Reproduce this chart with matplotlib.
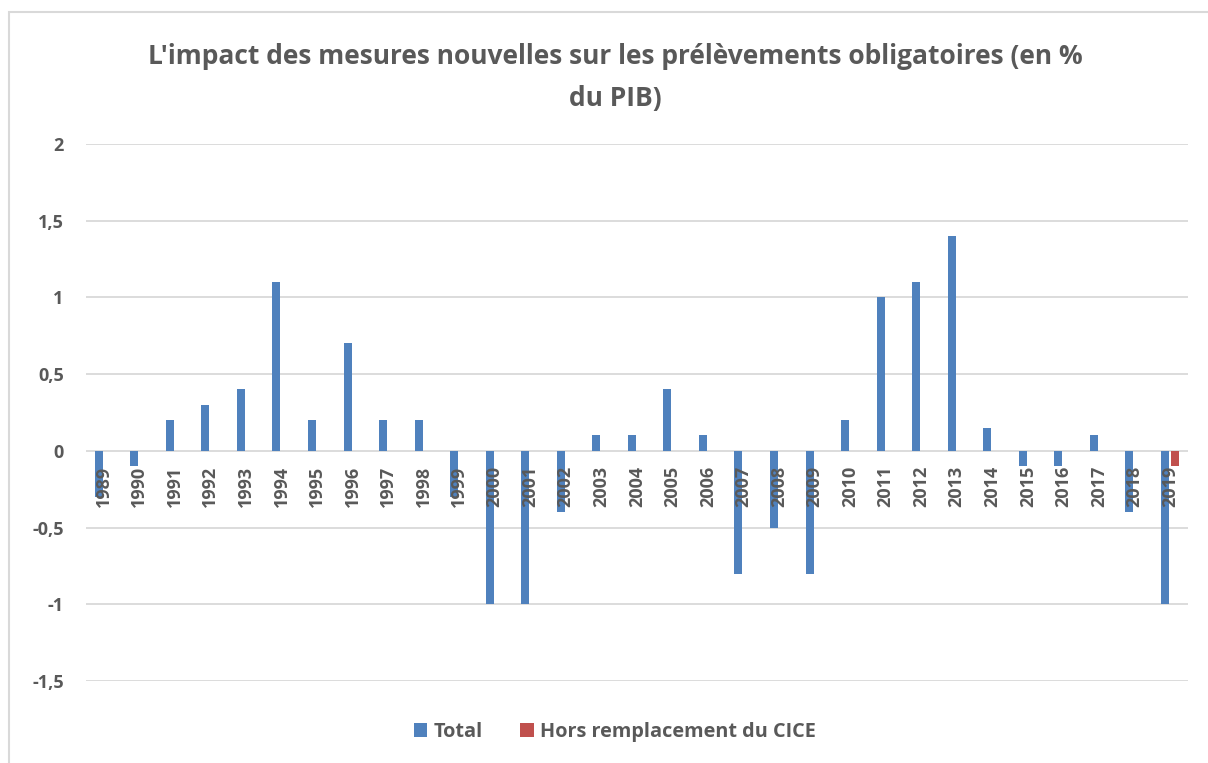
import numpy as np
import matplotlib
matplotlib.use('Agg')
import matplotlib.pyplot as plt
from matplotlib.patches import Rectangle

plt.rcParams['font.family'] = ['Open Sans', 'DejaVu Sans']

# data
years = [str(y) for y in range(1989, 2020)]
total = [-0.3, -0.1, 0.2, 0.3, 0.4, 1.1, 0.2, 0.7, 0.2, 0.2,
         -0.3, -1.0, -1.0, -0.4, 0.1, 0.1, 0.4, 0.1, -0.8, -0.5,
         -0.8, 0.2, 1.0, 1.1, 1.4, 0.15, -0.1, -0.1, 0.1, -0.4, -1.0]
hors_cice = [np.nan] * 30 + [-0.1]
yticks = [-1.5, -1, -0.5, 0, 0.5, 1, 1.5, 2]
ytick_labels = ['-1,5', '-1', '-0,5', '0', '0,5', '1', '1,5', '2']

blue = '#4F81BD'
red = '#C0504D'
grey = '#595959'
grid_col = '#D9D9D9'

fig = plt.figure(figsize=(12.08, 7.63), dpi=100)
ax = fig.add_axes([0.0712, 0.1075, 0.912, 0.7038])

x = np.arange(len(years))
w = 0.225
ax.bar(x - 0.14, total, width=w, color=blue, label='Total', zorder=3)
ax.bar(x + 0.14, hors_cice, width=w, color=red, label='Hors remplacement du CICE', zorder=3)

ax.spines['bottom'].set_position(('data', 0))
for s in ['top', 'right', 'left', 'bottom']:
    ax.spines[s].set_visible(False)

ax.set_xlim(-0.5, len(years) - 0.5)
ax.set_ylim(-1.5, 2)
ax.set_yticks(yticks)
ax.set_yticklabels(ytick_labels)
ax.yaxis.grid(True, color=grid_col, linewidth=1.3)
ax.set_axisbelow(True)
# year labels sit on top of the bars, like in the original
ax.xaxis.set_zorder(4)

ax.set_xticks(x)
ax.set_xticklabels(years)
ax.tick_params(axis='both', length=0, colors=grey, labelsize=13)
ax.tick_params(axis='x', pad=11, labelrotation=90)
ax.tick_params(axis='y', pad=16)
for lab in ax.get_xticklabels():
    lab.set_fontweight('bold')
    lab.set_va('top')
for lab in ax.get_yticklabels():
    lab.set_fontweight('bold')

fig.text(0.509, 0.926, "L'impact des mesures nouvelles sur les prélèvements obligatoires (en %",
         ha='center', va='center', fontsize=19, fontweight='bold', color=grey)
fig.text(0.509, 0.871, "du PIB)",
         ha='center', va='center', fontsize=19, fontweight='bold', color=grey)

leg = fig.legend(loc='center', bbox_to_anchor=(0.509, 0.041), ncol=2, frameon=False,
                 handlelength=0.7, handleheight=0.7, handletextpad=0.3, columnspacing=1.9,
                 prop={'size': 14.3, 'weight': 'bold'})
for t in leg.get_texts():
    t.set_color(grey)

# chart frame
fig.patches.append(Rectangle((9 / 1208, -0.05), 1.2, 1 - 12 / 763 + 0.05,
                             transform=fig.transFigure, fill=False,
                             edgecolor=grid_col, linewidth=1.5))

fig.savefig('out.png', dpi=100)
